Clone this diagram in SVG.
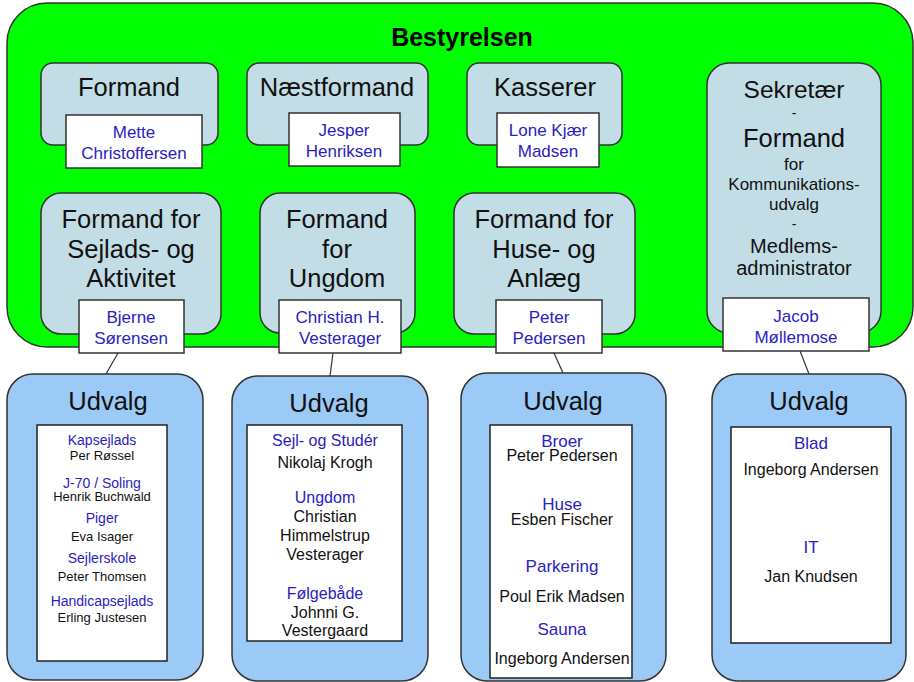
<svg xmlns="http://www.w3.org/2000/svg" width="914" height="682" viewBox="0 0 914 682">
<style>
text{font-family:"Liberation Sans",Arial,sans-serif;text-anchor:middle;}
.board{fill:#00ff00;stroke:#333;stroke-width:1.5;}
.role{fill:#c3dde6;stroke:#333;stroke-width:1.5;}
.name{fill:#fff;stroke:#333;stroke-width:1.5;}
.udv{fill:#9bcaf6;stroke:#333;stroke-width:1.5;}
.inner{fill:#fff;stroke:#222;stroke-width:1.5;}
.t24{font-size:25.5px;fill:#111;}
.nm{font-size:17px;fill:#2a22c0;}
.bl{fill:#2a22c0;}
.bk{fill:#111;}
.con{stroke:#333;stroke-width:1.2;fill:none;}
</style>
<rect width="914" height="682" fill="#fff"/>
<g id="bestyrelsen">
<rect class="board" x="7" y="3" width="906" height="344" rx="40"/>
<text x="462" y="46" font-size="25" font-weight="bold" fill="#000">Bestyrelsen</text>
</g>
<g id="formand">
<rect class="role" x="41" y="63" width="177" height="82" rx="12"/>
<text class="t24" x="129" y="96">Formand</text>
<rect class="name" x="66" y="115" width="136" height="53"/>
<text class="nm" x="134" y="138">Mette</text>
<text class="nm" x="134" y="159">Christoffersen</text>
</g>
<g id="naestformand">
<rect class="role" x="247" y="63" width="181" height="82" rx="12"/>
<text class="t24" x="337" y="96">Næstformand</text>
<rect class="name" x="289" y="113" width="111" height="53"/>
<text class="nm" x="344" y="136">Jesper</text>
<text class="nm" x="344" y="157">Henriksen</text>
</g>
<g id="kasserer">
<rect class="role" x="467" y="63" width="155" height="82" rx="12"/>
<text class="t24" x="545" y="96">Kasserer</text>
<rect class="name" x="497" y="113" width="102" height="54"/>
<text class="nm" x="548" y="136">Lone Kjær</text>
<text class="nm" x="548" y="157">Madsen</text>
</g>
<g id="sekretaer">
<rect class="role" x="707" y="63" width="174" height="270" rx="22"/>
<text x="794" y="98" font-size="24.5" fill="#111">Sekretær</text>
<text x="794" y="118" font-size="14" fill="#111">-</text>
<text class="t24" x="794" y="147">Formand</text>
<text x="794" y="170" font-size="17" fill="#111">for</text>
<text x="794" y="190" font-size="17" fill="#111">Kommunikations-</text>
<text x="794" y="210" font-size="17" fill="#111">udvalg</text>
<text x="794" y="229" font-size="14" fill="#111">-</text>
<text x="794" y="253" font-size="20" fill="#111">Medlems-</text>
<text x="794" y="275" font-size="20" fill="#111">administrator</text>
<rect class="name" x="723" y="298" width="146" height="53"/>
<text class="nm" x="796" y="322">Jacob</text>
<text class="nm" x="796" y="343">Møllemose</text>
</g>
<g id="sejlads">
<rect class="role" x="41" y="193" width="180" height="141" rx="20"/>
<text class="t24" x="131" y="228">Formand for</text>
<text class="t24" x="131" y="258">Sejlads- og</text>
<text class="t24" x="131" y="287">Aktivitet</text>
<rect class="name" x="79" y="300" width="105" height="53"/>
<text class="nm" x="131" y="323">Bjerne</text>
<text class="nm" x="131" y="344">Sørensen</text>
</g>
<g id="ungdom">
<rect class="role" x="260" y="193" width="155" height="140" rx="20"/>
<text class="t24" x="337" y="228">Formand</text>
<text class="t24" x="337" y="258">for</text>
<text class="t24" x="337" y="287">Ungdom</text>
<rect class="name" x="279" y="300" width="122" height="53"/>
<text class="nm" x="340" y="323">Christian H.</text>
<text class="nm" x="340" y="344">Vesterager</text>
</g>
<g id="huse">
<rect class="role" x="454" y="193" width="181" height="141" rx="20"/>
<text class="t24" x="544" y="228">Formand for</text>
<text class="t24" x="544" y="258">Huse- og</text>
<text class="t24" x="544" y="287">Anlæg</text>
<rect class="name" x="496" y="300" width="106" height="53"/>
<text class="nm" x="549" y="323">Peter</text>
<text class="nm" x="549" y="344">Pedersen</text>
</g>
<g id="connectors">
<line class="con" x1="118" y1="353" x2="106" y2="374"/>
<line class="con" x1="333" y1="353" x2="330" y2="376"/>
<line class="con" x1="554" y1="353" x2="563" y2="373"/>
<line class="con" x1="800" y1="351" x2="809" y2="374"/>
</g>
<g id="udvalg1">
<rect class="udv" x="7" y="374" width="196" height="306" rx="26"/>
<text class="t24" x="108" y="410">Udvalg</text>
<rect class="inner" x="37" y="425" width="130" height="236"/>
<g font-size="14">
<text class="bl" x="102" y="445">Kapsejlads</text>
<text class="bk" x="102" y="460" font-size="13">Per Røssel</text>
<text class="bl" x="102" y="488">J-70 / Soling</text>
<text class="bk" x="102" y="501" font-size="13">Henrik Buchwald</text>
<text class="bl" x="102" y="523">Piger</text>
<text class="bk" x="102" y="541" font-size="13">Eva Isager</text>
<text class="bl" x="102" y="563">Sejlerskole</text>
<text class="bk" x="102" y="581" font-size="13">Peter Thomsen</text>
<text class="bl" x="102" y="606">Handicapsejlads</text>
<text class="bk" x="102" y="622" font-size="13">Erling Justesen</text>
</g>
</g>
<g id="udvalg2">
<rect class="udv" x="232" y="376" width="196" height="305" rx="26"/>
<text class="t24" x="329" y="412">Udvalg</text>
<rect class="inner" x="247" y="425" width="155" height="216"/>
<g font-size="16">
<text class="bl" x="325" y="446">Sejl- og Studér</text>
<text class="bk" x="325" y="468">Nikolaj Krogh</text>
<text class="bl" x="325" y="503">Ungdom</text>
<text class="bk" x="325" y="522">Christian</text>
<text class="bk" x="325" y="541">Himmelstrup</text>
<text class="bk" x="325" y="560">Vesterager</text>
<text class="bl" x="325" y="599">Følgebåde</text>
<text class="bk" x="325" y="618">Johnni G.</text>
<text class="bk" x="325" y="636">Vestergaard</text>
</g>
</g>
<g id="udvalg3">
<rect class="udv" x="461" y="373" width="205" height="308" rx="26"/>
<text class="t24" x="563" y="410">Udvalg</text>
<rect class="inner" x="490" y="425" width="142" height="253"/>
<g font-size="16">
<text class="bl" x="562" y="447" font-size="17">Broer</text>
<text class="bk" x="562" y="461">Peter Pedersen</text>
<text class="bl" x="562" y="510" font-size="17">Huse</text>
<text class="bk" x="562" y="525">Esben Fischer</text>
<text class="bl" x="562" y="572" font-size="17">Parkering</text>
<text class="bk" x="562" y="602">Poul Erik Madsen</text>
<text class="bl" x="562" y="635" font-size="17">Sauna</text>
<text class="bk" x="562" y="664">Ingeborg Andersen</text>
</g>
</g>
<g id="udvalg4">
<rect class="udv" x="712" y="374" width="194" height="307" rx="26"/>
<text class="t24" x="809" y="410">Udvalg</text>
<rect class="inner" x="731" y="427" width="160" height="216"/>
<g font-size="16">
<text class="bl" x="811" y="449" font-size="17">Blad</text>
<text class="bk" x="811" y="475">Ingeborg Andersen</text>
<text class="bl" x="811" y="553" font-size="17">IT</text>
<text class="bk" x="811" y="582">Jan Knudsen</text>
</g>
</g>
</svg>
